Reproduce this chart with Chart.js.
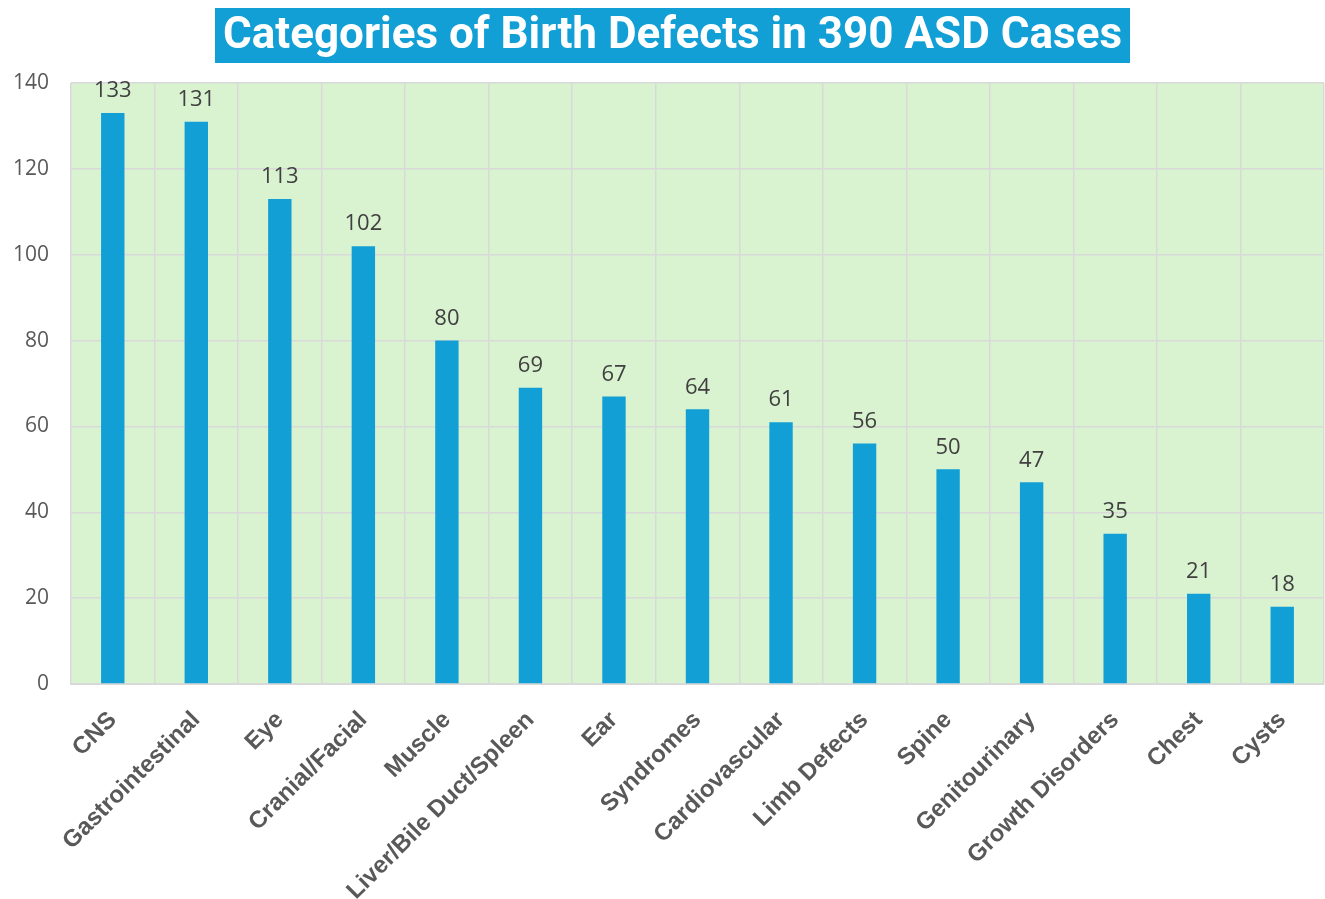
<!DOCTYPE html>
<html lang="en">
<head>
    <meta charset="UTF-8">
    <title>Categories of Birth Defects in 390 ASD Cases</title>
    <style>
        body {
            margin: 0;
            background-color: #ffffff;
        }
        .chart-container {
            width: 1325px;
            height: 899px;
        }
    </style>
    <script src="https://cdn.jsdelivr.net/npm/chart.js"></script>
</head>
<body>
    <div class="chart-container">
        <canvas id="defectChart"></canvas>
    </div>

    <script>
        const chartTitle = 'Categories of Birth Defects in 390 ASD Cases';
        const categories = ['CNS', 'Gastrointestinal', 'Eye', 'Cranial/Facial', 'Muscle',
            'Liver/Bile Duct/Spleen', 'Ear', 'Syndromes', 'Cardiovascular', 'Limb Defects',
            'Spine', 'Genitourinary', 'Growth Disorders', 'Chest', 'Cysts'];
        const caseCounts = [133, 131, 113, 102, 80, 69, 67, 64, 61, 56, 50, 47, 35, 21, 18];
        const yTicks = [0, 20, 40, 60, 80, 100, 120, 140];

        // fundo verde da área do gráfico + título em caixa azul
        const backgroundPlugin = {
            id: 'backgrounds',
            beforeDraw(chart) {
                const ctx = chart.ctx;
                const area = chart.chartArea;
                ctx.save();
                ctx.fillStyle = '#d9f2d0';
                ctx.fillRect(area.left, area.top, area.right - area.left, area.bottom - area.top);

                ctx.font = 'bold 44px Roboto';
                const w = ctx.measureText(chartTitle).width;
                const cx = chart.width / 2 + 10;
                ctx.fillStyle = '#129fd6';
                ctx.fillRect(cx - w / 2 - 8, 8, w + 16, 55);
                ctx.fillStyle = '#ffffff';
                ctx.textAlign = 'center';
                ctx.textBaseline = 'middle';
                ctx.fillText(chartTitle, cx, 37);
                ctx.restore();
            }
        };

        // valores acima das barras
        const valueLabelPlugin = {
            id: 'valueLabels',
            afterDatasetsDraw(chart) {
                const ctx = chart.ctx;
                const meta = chart.getDatasetMeta(0);
                ctx.save();
                ctx.font = '22px "Open Sans"';
                ctx.fillStyle = '#404040';
                ctx.textAlign = 'center';
                ctx.textBaseline = 'bottom';
                meta.data.forEach((bar, i) => {
                    ctx.fillText(caseCounts[i], bar.x, bar.y - 11);
                });
                ctx.restore();
            }
        };

        const ctx = document.getElementById('defectChart').getContext('2d');
        new Chart(ctx, {
            type: 'bar',
            data: {
                labels: categories,
                datasets: [{
                    label: 'Cases',
                    data: caseCounts,
                    backgroundColor: '#129fd6',
                    borderWidth: 0,
                    barPercentage: 0.28,
                    categoryPercentage: 1.0
                }]
            },
            options: {
                responsive: true,
                maintainAspectRatio: false,
                animation: false,
                layout: {
                    padding: { left: 4, right: 1, top: 83, bottom: 0 }
                },
                plugins: {
                    legend: { display: false },
                    tooltip: { enabled: false },
                    title: { display: false }
                },
                scales: {
                    x: {
                        afterFit(axis) {
                            axis.height = 215;
                            axis.paddingLeft = 0;
                            axis.paddingRight = 0;
                        },
                        grid: {
                            display: true,
                            offset: true,
                            color: '#d9d9d9',
                            lineWidth: 1.5,
                            drawTicks: false
                        },
                        border: { color: '#d9d9d9', width: 2 },
                        ticks: {
                            color: '#595959',
                            font: { family: 'Liberation Sans', size: 24, weight: 'bold' },
                            minRotation: 45,
                            maxRotation: 45,
                            padding: 22,
                            autoSkip: false
                        }
                    },
                    y: {
                        min: 0,
                        max: 140,
                        afterBuildTicks(axis) {
                            axis.ticks = yTicks.map(v => ({ value: v }));
                        },
                        afterFit(axis) {
                            axis.width = 67;
                        },
                        grid: {
                            color: '#d9d9d9',
                            lineWidth: 1.5,
                            drawTicks: false
                        },
                        border: { display: false },
                        ticks: {
                            color: '#595959',
                            font: { family: 'Open Sans', size: 21 },
                            padding: 22
                        }
                    }
                }
            },
            plugins: [backgroundPlugin, valueLabelPlugin]
        });
    </script>
</body>
</html>
